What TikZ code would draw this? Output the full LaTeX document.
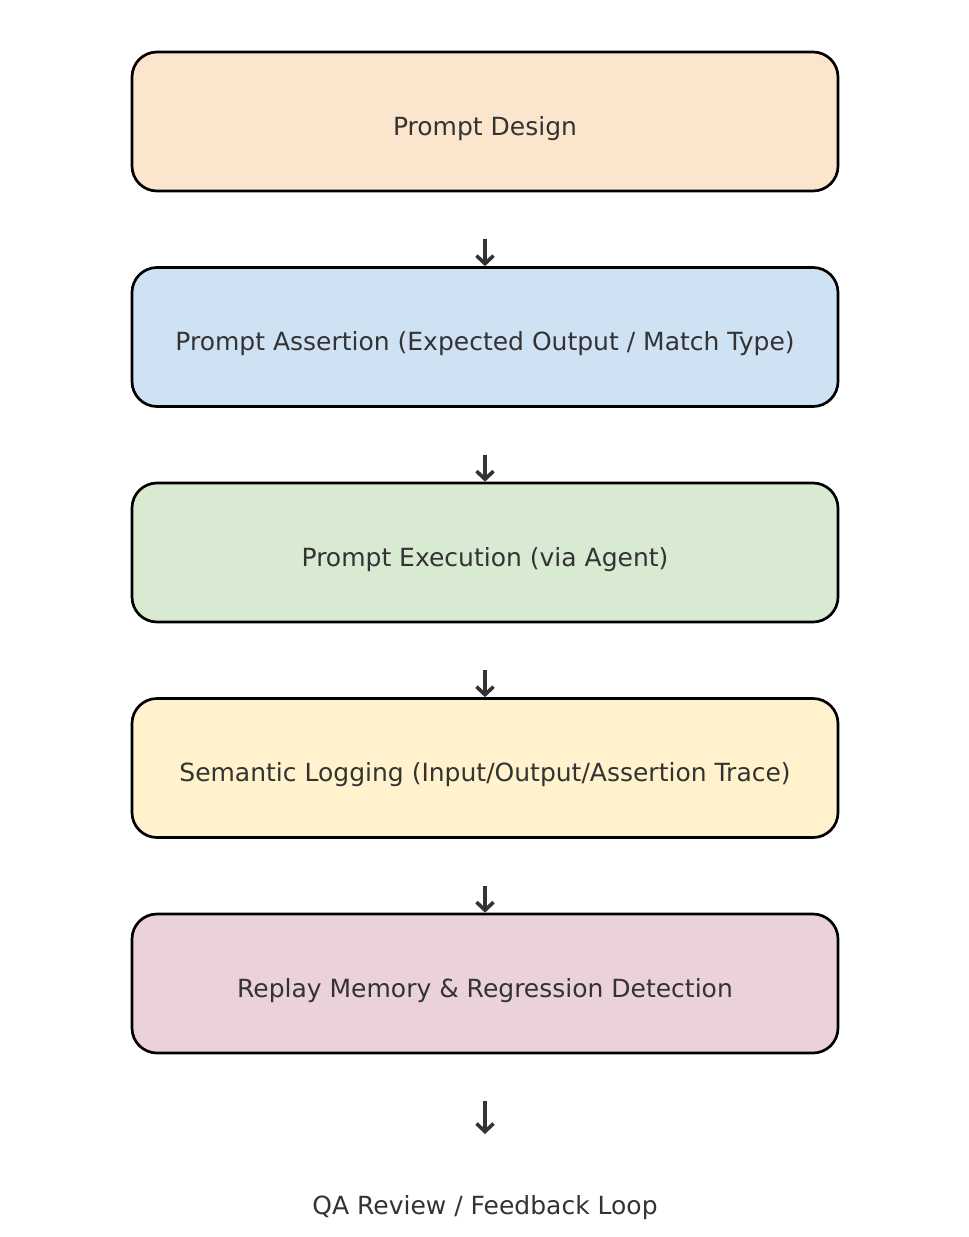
\documentclass[tikz,border=0pt]{standalone}
\usepackage{fontspec}
\setmainfont{DejaVu Sans}
\usetikzlibrary{arrows.meta,calc}
\definecolor{txt}{HTML}{333333}
\definecolor{cA}{HTML}{FCE5CD}
\definecolor{cB}{HTML}{CFE2F3}
\definecolor{cC}{HTML}{D9EAD3}
\definecolor{cD}{HTML}{FFF2CC}
\definecolor{cE}{HTML}{EAD1DC}
\tikzset{
  stagebox/.style={draw=black, line width=2.7pt, rounded corners=25pt,
    minimum width=706pt, minimum height=139pt, inner sep=0pt,
    font=\fontsize{25}{30}\selectfont, text=txt, text height=27pt, text depth=0pt},
  flowarrow/.style={draw=txt, line width=3.6pt,
    -{Straight Barb[length=8pt,width=17pt,line width=3.6pt]}},
  plainlabel/.style={font=\fontsize{25}{30}\selectfont, text=txt, text height=27pt, text depth=0pt}
}
\begin{document}
\begin{tikzpicture}[x=1pt,y=1pt]
\useasboundingbox (0,0) rectangle (969,-1237);
\node[stagebox, fill=cA] (s1) at (485,-121.5) {Prompt Design};
\node[stagebox, fill=cB] (s2) at (485,-337) {Prompt Assertion (Expected Output / Match Type)};
\node[stagebox, fill=cC] (s3) at (485,-552.5) {Prompt Execution (via Agent)};
\node[stagebox, fill=cD] (s4) at (485,-768) {Semantic Logging (Input/Output/Assertion Trace)};
\node[stagebox, fill=cE] (s5) at (485,-983.5) {Replay Memory \& Regression Detection};
\node[plainlabel] (qa) at (485,-1200.5) {QA Review / Feedback Loop};
\coordinate (e6) at (485,-1134);
\draw[flowarrow] ($(s1.south)+(0,-47)$) -- (s2.north);
\draw[flowarrow] ($(s2.south)+(0,-47)$) -- (s3.north);
\draw[flowarrow] ($(s3.south)+(0,-47)$) -- (s4.north);
\draw[flowarrow] ($(s4.south)+(0,-47)$) -- (s5.north);
\draw[flowarrow] ($(s5.south)+(0,-47)$) -- (e6);
\end{tikzpicture}
\end{document}
